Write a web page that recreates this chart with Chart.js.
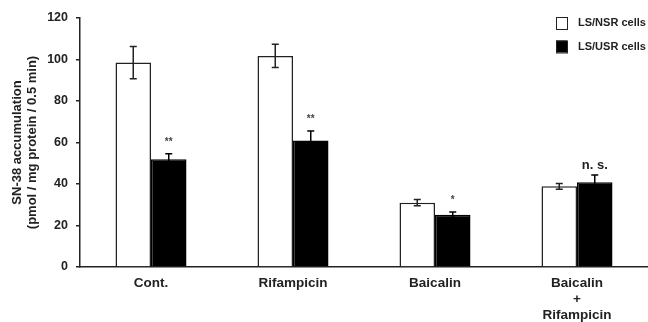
<!DOCTYPE html>
<html>
<head>
<meta charset="utf-8">
<script src="https://cdn.jsdelivr.net/npm/chart.js@4"></script>
<style>
body{margin:0;background:#fff;}
#wrap{width:648px;height:322px;}
</style>
</head>
<body>
<div id="wrap"><canvas id="chart"></canvas></div>
<script>
var categories = ["Cont.", "Rifampicin", "Baicalin", ["Baicalin", "+", "Rifampicin"]];
var nsrValues = [98.5, 101.7, 31.0, 38.9];
var nsrErrors = [7.8, 5.6, 1.5, 1.4];
var usrValues = [51.9, 61.0, 25.2, 40.8];
var usrErrors = [2.7, 4.5, 1.3, 3.5];
var usrMarks = ["**", "**", "*", "n. s."];
var yTicks = [0, 20, 40, 60, 80, 100, 120];

var ink = "#222";
var font = "Liberation Sans, Arial, sans-serif";

var errorBars = {
	id: "errorBars",
	afterDatasetsDraw: function(chart){
		var ctx = chart.ctx;
		var y = chart.scales.y;
		var errs = [nsrErrors, usrErrors];
		ctx.save();
		ctx.strokeStyle = ink;
		ctx.lineWidth = 1.5;
		chart.data.datasets.forEach(function(ds, di){
			var meta = chart.getDatasetMeta(di);
			meta.data.forEach(function(bar, i){
				var top = y.getPixelForValue(ds.data[i] + errs[di][i]);
				var bot = y.getPixelForValue(ds.data[i] - errs[di][i]);
				ctx.strokeStyle = (di == 1) ? "#000" : ink;
				ctx.beginPath();
				ctx.moveTo(bar.x, top); ctx.lineTo(bar.x, bot);
				ctx.moveTo(bar.x - 3.5, top); ctx.lineTo(bar.x + 3.5, top);
				ctx.moveTo(bar.x - 3.5, bot); ctx.lineTo(bar.x + 3.5, bot);
				ctx.stroke();
			});
		});
		// significance marks over the LS/USR bars
		var meta = chart.getDatasetMeta(1);
		ctx.textAlign = "center";
		ctx.textBaseline = "alphabetic";
		meta.data.forEach(function(bar, i){
			var top = y.getPixelForValue(usrValues[i] + usrErrors[i]);
			var m = usrMarks[i];
			if(m.indexOf("*") >= 0){
				ctx.font = "bold 10px " + font;
				ctx.fillStyle = "#444";
				ctx.fillText(m, bar.x, top - 9);
			}else{
				ctx.font = "bold 13px " + font;
				ctx.fillStyle = ink;
				ctx.fillText(m, bar.x, top - 6);
			}
		});
		ctx.restore();
	}
};

var boxLegend = {
	id: "boxLegend",
	afterDraw: function(chart){
		var ctx = chart.ctx;
		ctx.save();
		ctx.font = "bold 11px " + font;
		ctx.textBaseline = "middle";
		ctx.textAlign = "left";
		chart.data.datasets.forEach(function(ds, i){
			var cy = 23 + i * 23.5;
			ctx.fillStyle = ds.backgroundColor;
			ctx.fillRect(556, cy - 6, 11, 12);
			ctx.strokeStyle = ink;
			ctx.lineWidth = 1;
			ctx.strokeRect(556.5, cy - 5.5, 11, 12);
			ctx.fillStyle = ink;
			ctx.fillText(ds.label, 578, cy);
		});
		ctx.restore();
	}
};

new Chart(document.getElementById("chart"), {
	type: "bar",
	data: {
		labels: categories,
		datasets: [{
			label: "LS/NSR cells",
			data: nsrValues,
			backgroundColor: "#ffffff",
			borderColor: ink,
			borderWidth: 1.5,
			borderSkipped: "bottom",
			barPercentage: 1.0,
			categoryPercentage: 0.5
		},{
			label: "LS/USR cells",
			data: usrValues,
			backgroundColor: "#000000",
			borderColor: "#000000",
			borderWidth: 1.5,
			borderSkipped: "bottom",
			barPercentage: 1.0,
			categoryPercentage: 0.5
		}]
	},
	options: {
		responsive: true,
		maintainAspectRatio: false,
		animation: false,
		layout: {padding: {top: 18, left: 0, right: 0, bottom: 0}},
		plugins: {legend: {display: false}, tooltip: {enabled: false}},
		scales: {
			x: {
				grid: {display: false, drawTicks: false},
				border: {color: ink, width: 1.5},
				ticks: {color: ink, font: {family: font, size: 13.5, weight: "bold", lineHeight: 1.19}, padding: 8, maxRotation: 0, autoSkip: false},
				afterFit: function(s){ s.height = 55; }
			},
			y: {
				min: 0,
				max: 120,
				afterBuildTicks: function(s){ s.ticks = yTicks.map(function(v){ return {value: v}; }); },
				grid: {drawOnChartArea: false, drawTicks: true, tickLength: 4, color: ink, lineWidth: 1.5},
				border: {color: ink, width: 1.5},
				ticks: {color: ink, font: {family: font, size: 12.5, weight: "bold"}, padding: 8},
				title: {
					display: true,
					text: ["SN-38 accumulation", "(pmol / mg protein / 0.5 min)"],
					color: ink,
					font: {family: font, size: 13, weight: "bold", lineHeight: 1.15},
					padding: {top: 10, bottom: 0}
				},
				afterFit: function(s){ s.width = 80; }
			}
		}
	},
	plugins: [errorBars, boxLegend]
});
</script>
</body>
</html>
